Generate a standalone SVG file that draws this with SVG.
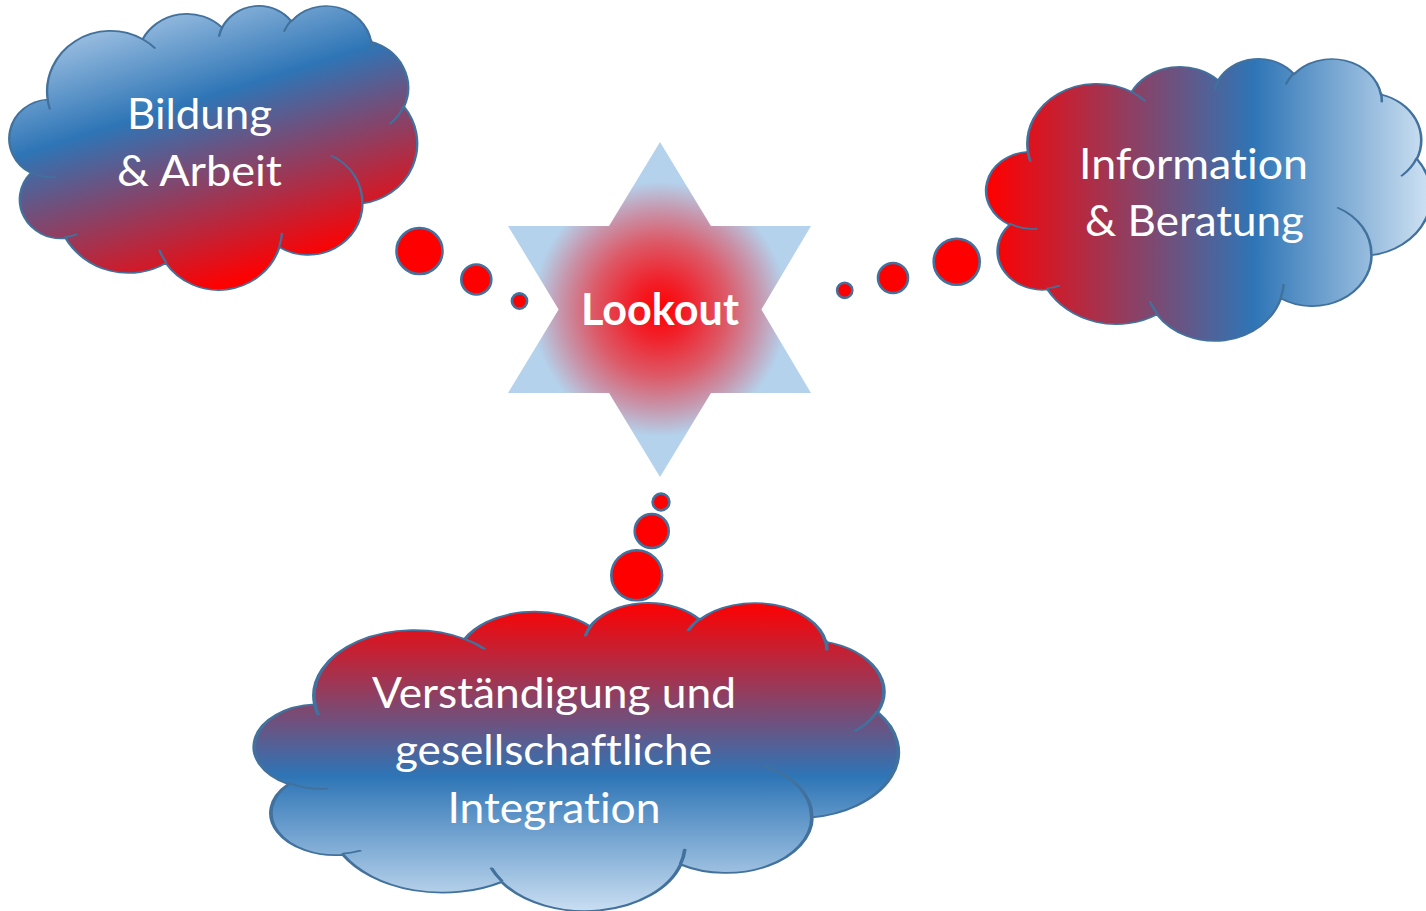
<svg xmlns="http://www.w3.org/2000/svg" xmlns:xlink="http://www.w3.org/1999/xlink" width="1426" height="911" viewBox="0 0 1426 911">
  <style>
    .cloud { stroke: #41719c; stroke-width: 2.5; vector-effect: non-scaling-stroke; stroke-linejoin: round; }
    .cloudline { fill: none; stroke: #41719c; stroke-width: 2.5; vector-effect: non-scaling-stroke; stroke-linecap: round; }
    .bubble { fill: #ff0000; stroke: #41719c; stroke-width: 2.6; }
    .label { font-family: Lato, "Open Sans", "Liberation Sans", sans-serif; font-size: 43px; fill: #ffffff; text-anchor: middle; font-variant-ligatures: none; font-feature-settings: "liga" 0, "clig" 0; }
    .title { font-weight: bold; }
  </style>
  <defs>
    <path id="cloudShape" d="M 39.00 143.70 A 67.53 91.90 0 0 1 140.05 52.02 A 53.33 72.67 0 0 1 224.56 34.32 A 43.65 59.45 0 0 1 298.33 24.81 A 48.57 65.95 0 0 1 383.18 55.76 A 53.33 72.73 0 0 1 418.19 154.60 A 67.75 92.20 0 0 1 374.05 302.03 A 57.85 78.67 0 0 1 285.56 368.13 A 67.52 92.15 0 0 1 164.81 392.64 A 77.20 105.43 0 0 1 58.05 354.70 A 43.60 59.18 0 0 1 21.14 255.48 A 43.45 59.45 0 0 1 39.00 143.70 Z"/>
    <path id="cloudLines" d="M 46.93 261.77 A 43.45 59.45 0 0 1 21.60 253.80 M 69.28 348.99 A 43.60 59.18 0 0 1 58.20 352.81 M 164.78 390.90 A 67.52 92.15 0 0 1 158.10 373.50 M 288.27 347.51 A 67.52 92.15 0 0 1 285.60 366.60 M 341.29 229.54 A 57.85 78.67 0 0 1 373.81 300.90 M 417.98 153.54 A 53.33 72.73 0 0 1 403.50 180.30 M 383.24 54.26 A 48.57 65.95 0 0 1 384.00 66.90 M 290.78 39.52 A 48.57 65.95 0 0 1 298.20 23.40 M 221.41 47.20 A 43.65 59.45 0 0 1 225.00 33.30 M 140.00 51.92 A 67.53 91.90 0 0 1 153.00 65.40 M 41.27 157.89 A 67.53 91.90 0 0 1 39.00 143.70"/>
    <linearGradient id="gradBildung" gradientUnits="userSpaceOnUse" x1="5.9" y1="19.1" x2="101" y2="324.7" gradientTransform="scale(1.06404 1.52113) translate(-11 -5)">
      <stop offset="0" stop-color="#c2d9f0"/>
      <stop offset="0.419" stop-color="#2e75b6"/>
      <stop offset="1" stop-color="#ff0000"/>
    </linearGradient>
    <linearGradient id="gradInfo" gradientUnits="userSpaceOnUse" x1="988" y1="0" x2="1431" y2="0" gradientTransform="scale(0.97517 1.53191) translate(-988 -58)">
      <stop offset="0" stop-color="#ff0000"/>
      <stop offset="0.6" stop-color="#2e75b6"/>
      <stop offset="1" stop-color="#cfe2f3"/>
    </linearGradient>
    <linearGradient id="gradVerst" gradientUnits="userSpaceOnUse" x1="0" y1="602" x2="0" y2="910" gradientTransform="scale(0.67394 1.40260) translate(-257 -602)">
      <stop offset="0" stop-color="#ff0000"/>
      <stop offset="0.565" stop-color="#2e75b6"/>
      <stop offset="1" stop-color="#c8ddf1"/>
    </linearGradient>
    <radialGradient id="gradStar" gradientUnits="userSpaceOnUse" cx="660" cy="309" r="150">
      <stop offset="0" stop-color="#ff0000"/>
      <stop offset="0.2" stop-color="#f0222c"/>
      <stop offset="0.45" stop-color="#dc5a68"/>
      <stop offset="0.65" stop-color="#c892a8"/>
      <stop offset="0.85" stop-color="#b4d2ec"/>
      <stop offset="1" stop-color="#b4d2ec"/>
    </radialGradient>
  </defs>

  <rect x="0" y="0" width="1426" height="911" fill="#ffffff"/>

  <g id="connectors">
    <circle class="bubble" cx="419.5" cy="251" r="23"/>
    <circle class="bubble" cx="476.3" cy="279.5" r="15"/>
    <circle class="bubble" cx="519.5" cy="301" r="7.6"/>
    <circle class="bubble" cx="844.7" cy="290.3" r="7.6"/>
    <circle class="bubble" cx="893" cy="278" r="15"/>
    <circle class="bubble" cx="956.7" cy="261.7" r="23"/>
    <circle class="bubble" cx="661" cy="502" r="8.4"/>
    <circle class="bubble" cx="651.7" cy="531" r="17"/>
    <ellipse class="bubble" cx="636.7" cy="575.3" rx="25.4" ry="25"/>
  </g>

  <g id="node-bildung">
    <g transform="translate(11 5) scale(0.93981 0.65741)">
      <use xlink:href="#cloudShape" href="#cloudShape" class="cloud" fill="url(#gradBildung)"/>
      <use xlink:href="#cloudLines" href="#cloudLines" class="cloudline"/>
    </g>
    <text class="label" x="199.5" y="129" textLength="145" lengthAdjust="spacingAndGlyphs">Bildung</text>
    <text class="label" x="199.5" y="186" textLength="165" lengthAdjust="spacingAndGlyphs">&amp; Arbeit</text>
  </g>

  <g id="node-information">
    <g transform="translate(988 58) scale(1.02546 0.65278)">
      <use xlink:href="#cloudShape" href="#cloudShape" class="cloud" fill="url(#gradInfo)"/>
      <use xlink:href="#cloudLines" href="#cloudLines" class="cloudline"/>
    </g>
    <text class="label" x="1193.5" y="179" textLength="229" lengthAdjust="spacingAndGlyphs">Information</text>
    <text class="label" x="1194.5" y="236" textLength="219" lengthAdjust="spacingAndGlyphs">&amp; Beratung</text>
  </g>

  <g id="node-verstaendigung">
    <g transform="translate(257 602) scale(1.48380 0.71296)">
      <use xlink:href="#cloudShape" href="#cloudShape" class="cloud" fill="url(#gradVerst)"/>
      <use xlink:href="#cloudLines" href="#cloudLines" class="cloudline"/>
    </g>
    <text class="label" x="554" y="708" textLength="364" lengthAdjust="spacingAndGlyphs">Verständigung und</text>
    <text class="label" x="553.5" y="765" textLength="317" lengthAdjust="spacingAndGlyphs">gesellschaftliche</text>
    <text class="label" x="554" y="823" textLength="213" lengthAdjust="spacingAndGlyphs">Integration</text>
  </g>

  <g id="node-lookout">
    <polygon points="660,142 711,226 811,226 761.4,309.5 811,393 711,393 660,477 609,393 508,393 558.6,309.5 508,226 609,226" fill="url(#gradStar)"/>
    <text class="label title" x="660" y="325" textLength="158" lengthAdjust="spacingAndGlyphs">Lookout</text>
  </g>
</svg>
